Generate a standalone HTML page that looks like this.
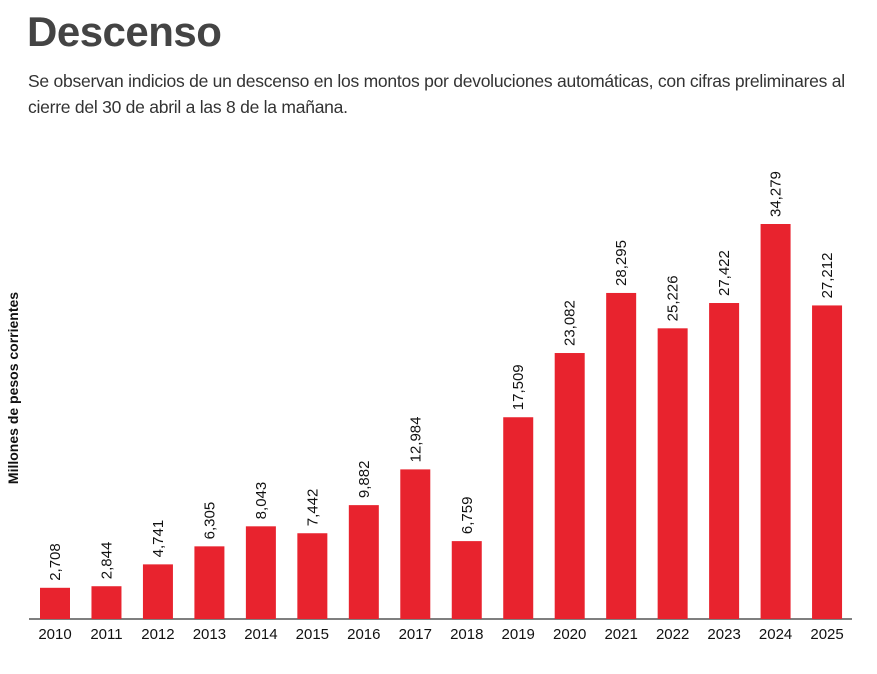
<!DOCTYPE html>
<html><head><meta charset="utf-8"><style>
body{margin:0;width:877px;height:674px;background:#fff;font-family:"Liberation Sans",sans-serif;overflow:hidden;position:relative}
h1{position:absolute;left:27px;top:8px;margin:0;font-size:42px;font-weight:bold;color:#444;letter-spacing:-0.5px}
p{position:absolute;left:28px;top:68px;margin:0;width:845px;font-size:17.5px;line-height:26px;color:#333;letter-spacing:-0.25px}
svg{position:absolute;left:0;top:0}
</style></head><body>
<h1>Descenso</h1>
<p>Se observan indicios de un descenso en los montos por devoluciones automáticas, con cifras preliminares al cierre del 30 de abril a las 8 de la mañana.</p>
<svg id="chart" width="877" height="674">
<text transform="translate(18,388) rotate(-90)" text-anchor="middle" font-size="14" font-weight="bold" fill="#111">Millones de pesos corrientes</text>
<line x1="29" x2="852" y1="619" y2="619" stroke="#333" stroke-width="1.2"/>
</svg>
<script>
const years=["2010","2011","2012","2013","2014","2015","2016","2017","2018","2019","2020","2021","2022","2023","2024","2025"];
const values=[2708,2844,4741,6305,8043,7442,9882,12984,6759,17509,23082,28295,25226,27422,34279,27212];
const svg=document.getElementById('chart');
const NS='http://www.w3.org/2000/svg';
const base=619, scaleY=v=>v*395/34279, x0=40, step=51.47, bw=30;
const fmt=v=>v.toLocaleString('en-US');
years.forEach((y,i)=>{
  const x=x0+i*step, h=scaleY(values[i]);
  const r=document.createElementNS(NS,'rect');
  r.setAttribute('x',x);r.setAttribute('y',base-h);r.setAttribute('width',bw);r.setAttribute('height',h);r.setAttribute('fill','#e8232e');
  
  
  svg.appendChild(r);
  const t=document.createElementNS(NS,'text');
  t.setAttribute('transform',`translate(${x+bw/2+5},${base-h-7}) rotate(-90)`);
  t.setAttribute('font-size','15');t.setAttribute('fill','#111');
  t.textContent=fmt(values[i]);
  
  
  svg.appendChild(t);
  const l=document.createElementNS(NS,'text');
  l.setAttribute('x',x+bw/2);l.setAttribute('y',639);l.setAttribute('text-anchor','middle');
  l.setAttribute('font-size','15');l.setAttribute('fill','#111');
  l.textContent=y;
  
  
  svg.appendChild(l);
});
</script>
</body></html>
